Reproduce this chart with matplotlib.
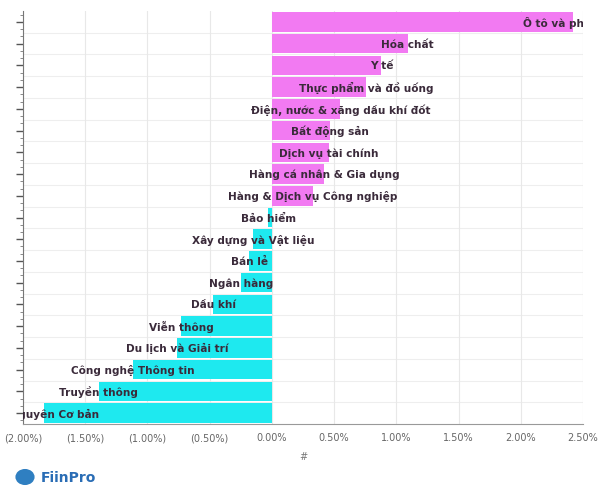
import matplotlib.pyplot as plt
from matplotlib.patches import Circle
from matplotlib.ticker import FuncFormatter, MultipleLocator

# Sector names, top to bottom
sectors = [
    "Ô tô và phụ tùng", "Hóa chất", "Y tế", "Thực phẩm và đồ uống",
    "Điện, nước & xăng dầu khí đốt", "Bất động sản", "Dịch vụ tài chính",
    "Hàng cá nhân & Gia dụng", "Hàng & Dịch vụ Công nghiệp", "Bảo hiểm",
    "Xây dựng và Vật liệu", "Bán lẻ", "Ngân hàng", "Dầu khí", "Viễn thông",
    "Du lịch và Giải trí", "Công nghệ Thông tin", "Truyền thông",
    "Tài nguyên Cơ bản",
]
# Change in %
changes = [2.42, 1.09, 0.88, 0.76, 0.55, 0.47, 0.46, 0.42, 0.33, -0.03,
           -0.15, -0.18, -0.25, -0.47, -0.73, -0.76, -1.12, -1.39, -1.83]
x_ticks = [-2.0, -1.5, -1.0, -0.5, 0.0, 0.5, 1.0, 1.5, 2.0, 2.5]

pos_color = "#f27af2"
neg_color = "#1ee9ef"

fig = plt.figure(figsize=(5.99, 5.02), dpi=100)
ax = fig.add_axes([23 / 599, 1 - 425 / 502, 560 / 599, 413 / 502])

ypos = list(range(len(sectors)))
colors = [pos_color if v >= 0 else neg_color for v in changes]
ax.barh(ypos, changes, height=0.9, color=colors, zorder=2)

# labels centred on the end of each bar
for y, v, name in zip(ypos, changes, sectors):
    ax.text(v, y, name, ha="center", va="center", fontsize=7.6,
            fontweight="bold", color="#3a2a3a", clip_on=True, zorder=3)

ax.set_xlim(-2.0, 2.5)
ax.set_ylim(len(sectors) - 0.5, -0.5)
ax.set_xticks(x_ticks)
ax.xaxis.set_major_formatter(FuncFormatter(
    lambda v, p: f"({abs(v):.2f}%)" if v < -1e-9 else f"{v:.2f}%"))
ax.tick_params(axis="x", length=0, labelsize=7, labelcolor="#666666", pad=6)
ax.grid(axis="x", color="#e8e8e8", linewidth=0.8, zorder=0)

# y axis: ticks on each bar, minor ticks between, light lines at bar edges
ax.set_yticks(ypos)
ax.set_yticklabels([])
ax.yaxis.set_minor_locator(MultipleLocator(1 / 3))
ax.tick_params(axis="y", which="major", length=5, color="#555555", width=1)
ax.tick_params(axis="y", which="minor", length=2, color="#777777")
for y in ypos[:-1]:
    ax.axhline(y + 0.5, color="#eeeeee", linewidth=0.8, zorder=0)

for side in ["top", "right"]:
    ax.spines[side].set_visible(False)
ax.spines["left"].set_color("#777777")
ax.spines["bottom"].set_color("#999999")

ax.set_xlabel("#", fontsize=7, color="#777777", labelpad=6)

# FiinPro logo
fig.patches.append(Circle((25 / 599, 1 - 478 / 502), 0.016, transform=fig.transFigure,
                          facecolor="#2f7fc1", edgecolor="none"))
fig.text(41 / 599, 1 - 478 / 502, "FiinPro", fontsize=10, fontweight="bold",
         color="#2a6db5", va="center")

fig.savefig("out.png", dpi=100)
